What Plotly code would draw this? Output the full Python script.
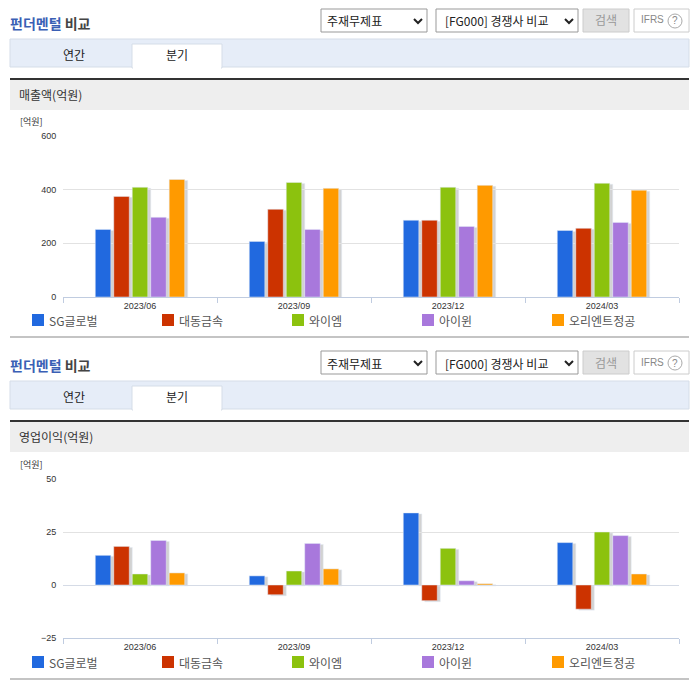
import plotly.graph_objects as go

W = 696
H = 684
FONT = "Noto Sans CJK KR"
TICK_FONT = "Liberation Sans"

quarters = ["2023/06", "2023/09", "2023/12", "2024/03"]
companies = ["SG글로벌", "대동금속", "와이엠", "아이윈", "오리엔트정공"]
colors = ["#2169df", "#cc3300", "#8cc20e", "#a878dc", "#ff9a00"]

sales_sg = [252, 207, 286, 248]
sales_dd = [375, 327, 286, 256]
sales_ym = [409, 427, 409, 424]
sales_iw = [297, 252, 263, 278]
sales_or = [438, 405, 416, 398]

profit_sg = [14, 4.3, 34, 20]
profit_dd = [18.2, -4.6, -7.4, -11.4]
profit_ym = [5.2, 6.6, 17.3, 25]
profit_iw = [21, 19.6, 2, 23.3]
profit_or = [5.7, 7.6, 0.6, 5.2]

sales = [sales_sg, sales_dd, sales_ym, sales_iw, sales_or]
profit = [profit_sg, profit_dd, profit_ym, profit_iw, profit_or]


def fx(px):
    return px / W


def fy(px):
    return 1 - px / H


def rect(x0, y0, x1, y1, fill, line=None):
    return dict(type="rect", xref="paper", yref="paper", x0=fx(x0), x1=fx(x1), y0=fy(y0), y1=fy(y1),
                fillcolor=fill, line=dict(color=line or fill, width=1 if line else 0), layer="below")


def label(x, y, text, size=12, color="#333333", anchor="left", font=FONT):
    # annotations carry 2px of padding, take it back so left edges land where they should
    if anchor == "left":
        x = x - 2
    return dict(xref="paper", yref="paper", x=fx(x), y=fy(y), text=text, showarrow=False, xanchor=anchor,
                yanchor="middle", font=dict(family=font, size=size, color=color))


def chevron(x, y):
    return dict(type="path", xref="paper", yref="paper", line=dict(color="#222222", width=2),
                path=f"M {fx(x - 4)} {fy(y - 2)} L {fx(x)} {fy(y + 2)} L {fx(x + 4)} {fy(y - 2)}")


shapes = []
annotations = []

# the page furniture is the same for both panels, only the offset and the caption change
for dy, caption in [(0, "매출액(억원)"), (342, "영업이익(억원)")]:
    annotations.append(label(10, 23 + dy, "<b><span style='color:#3a5fb5'>펀더멘털</span> 비교</b>", size=14, color="#444444"))
    shapes.append(rect(321, 9 + dy, 427, 32 + dy, "#ffffff", "#999999"))
    shapes.append(rect(436, 9 + dy, 578, 32 + dy, "#ffffff", "#999999"))
    shapes.append(rect(583, 9 + dy, 629, 32 + dy, "#e2e2e2", "#cccccc"))
    shapes.append(rect(634, 9 + dy, 689, 32 + dy, "#ffffff", "#cccccc"))
    shapes.append(chevron(418, 21 + dy))
    shapes.append(chevron(569, 21 + dy))
    annotations.append(label(327, 21 + dy, "주재무제표", size=12, color="#222222"))
    annotations.append(label(445, 21 + dy, "[FG000] 경쟁사 비교", size=12, color="#222222"))
    annotations.append(label(606, 20 + dy, "검색", size=12, color="#999999", anchor="center"))
    annotations.append(label(641, 20 + dy, "IFRS", size=10, color="#888888", font=TICK_FONT))
    annotations.append(label(675, 21 + dy, "?", size=10, color="#888888", anchor="center", font=TICK_FONT))
    shapes.append(dict(type="circle", xref="paper", yref="paper", x0=fx(668), x1=fx(682), y0=fy(14 + dy), y1=fy(28 + dy),
                       line=dict(color="#aaaaaa", width=1)))

    shapes.append(rect(10, 39 + dy, 689, 67 + dy, "#e6edf8", "#d5dde8"))
    shapes.append(rect(132, 44 + dy, 222, 68 + dy, "#ffffff", "#d5dde8"))
    shapes.append(rect(133, 66 + dy, 221, 69 + dy, "#ffffff"))
    annotations.append(label(74, 54 + dy, "연간", size=12, color="#222222", anchor="center"))
    annotations.append(label(177, 55 + dy, "분기", size=12, color="#222222", anchor="center"))

    shapes.append(rect(10, 78 + dy, 689, 80 + dy, "#333333"))
    shapes.append(rect(10, 80 + dy, 689, 110 + dy, "#eeeeee"))
    annotations.append(label(19, 95 + dy, caption, size=12, color="#333333"))
    annotations.append(label(20, 122 + dy, "[억원]", size=9, color="#333333"))
    shapes.append(rect(10, 336 + dy, 689, 338 + dy, "#c4c4c4"))

    # legend row, placed by hand because the page spaces it tighter than plotly's legend can
    for left, name, color in zip([32, 162, 292, 422, 552], companies, colors):
        shapes.append(rect(left, 314 + dy, left + 12, 326 + dy, color))
        annotations.append(label(left + 17, 320 + dy, name, size=12, color="#555555"))

fig = go.Figure()

# each chart has two overlaid subplots: grey copies of the bars nudged right/down, then the real ones
panels = [
    dict(values=sales, top=136, bottom=297, rng=[0, 600], dtick=200, sx="x", sy="y", mx="x2", my="y2"),
    dict(values=profit, top=479, bottom=638, rng=[-25, 50], dtick=25, sx="x3", sy="y3", mx="x4", my="y4"),
]

for p in panels:
    for vals in p["values"]:
        fig.add_trace(go.Bar(x=quarters, y=vals, xaxis=p["sx"], yaxis=p["sy"], marker_color="#d2d2d2",
                             showlegend=False, hoverinfo="skip"))
    for name, vals, color in zip(companies, p["values"], colors):
        fig.add_trace(go.Bar(x=quarters, y=vals, name=name, xaxis=p["mx"], yaxis=p["my"], marker_color=color,
                             showlegend=False))

    sx = p["sx"].replace("x", "xaxis")
    sy = p["sy"].replace("y", "yaxis")
    mx = p["mx"].replace("x", "xaxis")
    my = p["my"].replace("y", "yaxis")
    fig.update_layout({
        sx: dict(domain=[fx(66), fx(682)], visible=False, anchor=p["sy"], type="category", automargin=False),
        sy: dict(domain=[fy(p["bottom"] + 1), fy(p["top"] + 1)], visible=False, range=p["rng"], anchor=p["sx"],
                 automargin=False),
        mx: dict(domain=[fx(63), fx(679)], anchor=p["my"], type="category", tickson="boundaries", ticks="outside",
                 ticklen=5, tickcolor="#c0cce0", linecolor="#c0cce0", showline=True, showgrid=False, automargin=False,
                 tickfont=dict(family=TICK_FONT, size=9, color="#333333")),
        my: dict(domain=[fy(p["bottom"]), fy(p["top"])], anchor=p["mx"], range=p["rng"], dtick=p["dtick"],
                 gridcolor="#e2e2e2", gridwidth=1, zeroline=True, zerolinecolor="#d5dbe6", zerolinewidth=1,
                 ticks="outside", ticklen=4, tickcolor="rgba(0,0,0,0)",
                 showline=False, automargin=False, tickfont=dict(family=TICK_FONT, size=9, color="#333333")),
    })

fig.update_layout(
    width=W,
    height=H,
    margin=dict(l=0, r=0, t=0, b=0),
    paper_bgcolor="#ffffff",
    plot_bgcolor="rgba(0,0,0,0)",
    barmode="group",
    bargap=0.4,
    bargroupgap=0.16,
    shapes=shapes,
    annotations=annotations,
    showlegend=False,
)

fig.write_html("out.html", config={"displayModeBar": False},
               post_script="document.body.style.margin='0';document.body.style.overflow='hidden';")
